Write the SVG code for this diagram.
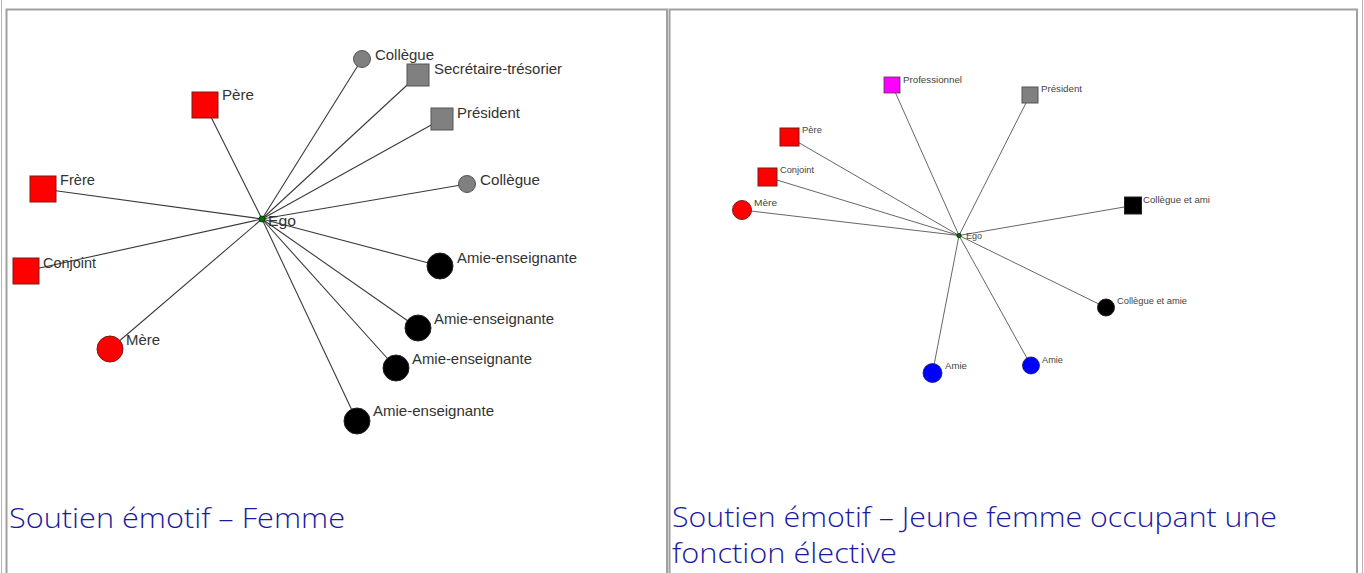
<svg xmlns="http://www.w3.org/2000/svg" width="1364" height="573" viewBox="0 0 1364 573">
<style>
.bg{fill:#ffffff}
.frame{stroke:#b4b4b4;stroke-width:1;fill:none}
.cell{stroke:#a0a0a0;stroke-width:2;fill:none}
.e1{stroke:#3a3a3a;stroke-width:1.1}
.e2{stroke:#555555;stroke-width:0.9}
.lbl{font-family:"Liberation Sans",Arial,sans-serif;font-size:14.5px;fill:#333333}
.lbs{font-family:"Liberation Sans",Arial,sans-serif;font-size:9.5px;fill:#444444}
.red{fill:#ff0000;stroke:#7a1a1a;stroke-width:1}
.gray{fill:#808080;stroke:#555555;stroke-width:1}
.blk{fill:#000000;stroke:#222222;stroke-width:1}
.blue{fill:#0000ff;stroke:#1a1a66;stroke-width:0.8}
.mag{fill:#ff00ff;stroke:#553355;stroke-width:0.8}
.ego{fill:#007000;stroke:#003300;stroke-width:0.8}
.title{font-family:"Open Sans","Liberation Sans",sans-serif;font-size:28px;fill:#1a1aa0;font-weight:300}
</style>
<rect class="bg" x="0" y="0" width="1364" height="573"/>
<g id="frames">
<line class="frame" x1="1.5" y1="0" x2="1.5" y2="573"/>
<line class="frame" x1="1362.5" y1="0" x2="1362.5" y2="573"/>
<path class="cell" d="M6.5,573 V9.5 H667 V573"/>
<path class="cell" d="M669.5,573 V9.5 H1357 V573"/>
</g>
<g id="connectors">
<line class="e1" x1="262" y1="219" x2="362" y2="59"/>
<line class="e1" x1="262" y1="219" x2="418" y2="75"/>
<line class="e1" x1="262" y1="219" x2="442" y2="119"/>
<line class="e1" x1="262" y1="219" x2="467" y2="184"/>
<line class="e1" x1="262" y1="219" x2="440" y2="266"/>
<line class="e1" x1="262" y1="219" x2="418" y2="328"/>
<line class="e1" x1="262" y1="219" x2="396" y2="368"/>
<line class="e1" x1="262" y1="219" x2="357" y2="421"/>
<line class="e1" x1="262" y1="219" x2="110" y2="349"/>
<line class="e1" x1="262" y1="219" x2="26" y2="271"/>
<line class="e1" x1="262" y1="219" x2="43" y2="189"/>
<line class="e1" x1="262" y1="219" x2="205" y2="105"/>
<line class="e2" x1="959" y1="235.5" x2="892" y2="85"/>
<line class="e2" x1="959" y1="235.5" x2="1030" y2="95"/>
<line class="e2" x1="959" y1="235.5" x2="789" y2="137"/>
<line class="e2" x1="959" y1="235.5" x2="767" y2="177"/>
<line class="e2" x1="959" y1="235.5" x2="742" y2="210"/>
<line class="e2" x1="959" y1="235.5" x2="1133" y2="205.5"/>
<line class="e2" x1="959" y1="235.5" x2="1106" y2="307.5"/>
<line class="e2" x1="959" y1="235.5" x2="932.5" y2="373"/>
<line class="e2" x1="959" y1="235.5" x2="1031" y2="365.5"/>
</g>
<g id="L-ego"><circle class="ego" cx="262" cy="219" r="3"/><text class="lbl" x="268" y="226" textLength="28" lengthAdjust="spacingAndGlyphs">Ego</text></g>
<g id="L-collegue1"><circle class="gray" cx="362" cy="59" r="8.5"/><text class="lbl" x="375" y="60" textLength="59" lengthAdjust="spacingAndGlyphs">Collègue</text></g>
<g id="L-secretaire"><rect class="gray" x="407" y="64" width="22" height="22"/><text class="lbl" x="434" y="74" textLength="128" lengthAdjust="spacingAndGlyphs">Secrétaire-trésorier</text></g>
<g id="L-president"><rect class="gray" x="431" y="108" width="22" height="22"/><text class="lbl" x="457" y="118" textLength="63" lengthAdjust="spacingAndGlyphs">Président</text></g>
<g id="L-collegue2"><circle class="gray" cx="467" cy="184" r="8.5"/><text class="lbl" x="480" y="185" textLength="60" lengthAdjust="spacingAndGlyphs">Collègue</text></g>
<g id="L-amie1"><circle class="blk" cx="440" cy="266" r="13"/><text class="lbl" x="457" y="263" textLength="120" lengthAdjust="spacingAndGlyphs">Amie-enseignante</text></g>
<g id="L-amie2"><circle class="blk" cx="418" cy="328" r="13"/><text class="lbl" x="434" y="324" textLength="120" lengthAdjust="spacingAndGlyphs">Amie-enseignante</text></g>
<g id="L-amie3"><circle class="blk" cx="396" cy="368" r="13"/><text class="lbl" x="412" y="364" textLength="120" lengthAdjust="spacingAndGlyphs">Amie-enseignante</text></g>
<g id="L-amie4"><circle class="blk" cx="357" cy="421" r="13"/><text class="lbl" x="373" y="416" textLength="121" lengthAdjust="spacingAndGlyphs">Amie-enseignante</text></g>
<g id="L-mere"><circle class="red" cx="110" cy="349" r="13"/><text class="lbl" x="126" y="345" textLength="34" lengthAdjust="spacingAndGlyphs">Mère</text></g>
<g id="L-conjoint"><rect class="red" x="13" y="258" width="26" height="26"/><text class="lbl" x="43" y="268" textLength="53" lengthAdjust="spacingAndGlyphs">Conjoint</text></g>
<g id="L-frere"><rect class="red" x="30" y="176" width="26" height="26"/><text class="lbl" x="60" y="185" textLength="35" lengthAdjust="spacingAndGlyphs">Frère</text></g>
<g id="L-pere"><rect class="red" x="192" y="92" width="26" height="26"/><text class="lbl" x="222" y="100" textLength="32" lengthAdjust="spacingAndGlyphs">Père</text></g>
<g id="L-title"><text class="title" x="9" y="528" textLength="336" lengthAdjust="spacingAndGlyphs">Soutien émotif – Femme</text></g>
<g id="R-ego"><circle class="ego" cx="959" cy="235.5" r="2.2"/><text class="lbs" x="966" y="239" textLength="16" lengthAdjust="spacingAndGlyphs">Ego</text></g>
<g id="R-professionnel"><rect class="mag" x="884" y="77" width="16" height="16"/><text class="lbs" x="903" y="83" textLength="59" lengthAdjust="spacingAndGlyphs">Professionnel</text></g>
<g id="R-president"><rect class="gray" x="1022" y="87" width="16" height="16"/><text class="lbs" x="1041" y="92" textLength="41" lengthAdjust="spacingAndGlyphs">Président</text></g>
<g id="R-pere"><rect class="red" x="780" y="128" width="19" height="18"/><text class="lbs" x="802" y="133" textLength="20" lengthAdjust="spacingAndGlyphs">Père</text></g>
<g id="R-conjoint"><rect class="red" x="758" y="168" width="19" height="18"/><text class="lbs" x="780" y="173" textLength="34" lengthAdjust="spacingAndGlyphs">Conjoint</text></g>
<g id="R-mere"><circle class="red" cx="742" cy="210" r="9.5"/><text class="lbs" x="754" y="206" textLength="23" lengthAdjust="spacingAndGlyphs">Mère</text></g>
<g id="R-collegue-ami"><rect class="blk" x="1124.5" y="197" width="17" height="17"/><text class="lbs" x="1143" y="203" textLength="67" lengthAdjust="spacingAndGlyphs">Collègue et ami</text></g>
<g id="R-collegue-amie"><circle class="blk" cx="1106" cy="307.5" r="8.5"/><text class="lbs" x="1117" y="304" textLength="70" lengthAdjust="spacingAndGlyphs">Collègue et amie</text></g>
<g id="R-amie1"><circle class="blue" cx="932.5" cy="373" r="9.5"/><text class="lbs" x="945" y="369" textLength="22" lengthAdjust="spacingAndGlyphs">Amie</text></g>
<g id="R-amie2"><circle class="blue" cx="1031" cy="365.5" r="8.5"/><text class="lbs" x="1042" y="363" textLength="21" lengthAdjust="spacingAndGlyphs">Amie</text></g>
<g id="R-title"><text class="title" x="672" y="527" textLength="605" lengthAdjust="spacingAndGlyphs">Soutien émotif – Jeune femme occupant une</text><text class="title" x="672" y="563" textLength="225" lengthAdjust="spacingAndGlyphs">fonction élective</text></g>
</svg>
